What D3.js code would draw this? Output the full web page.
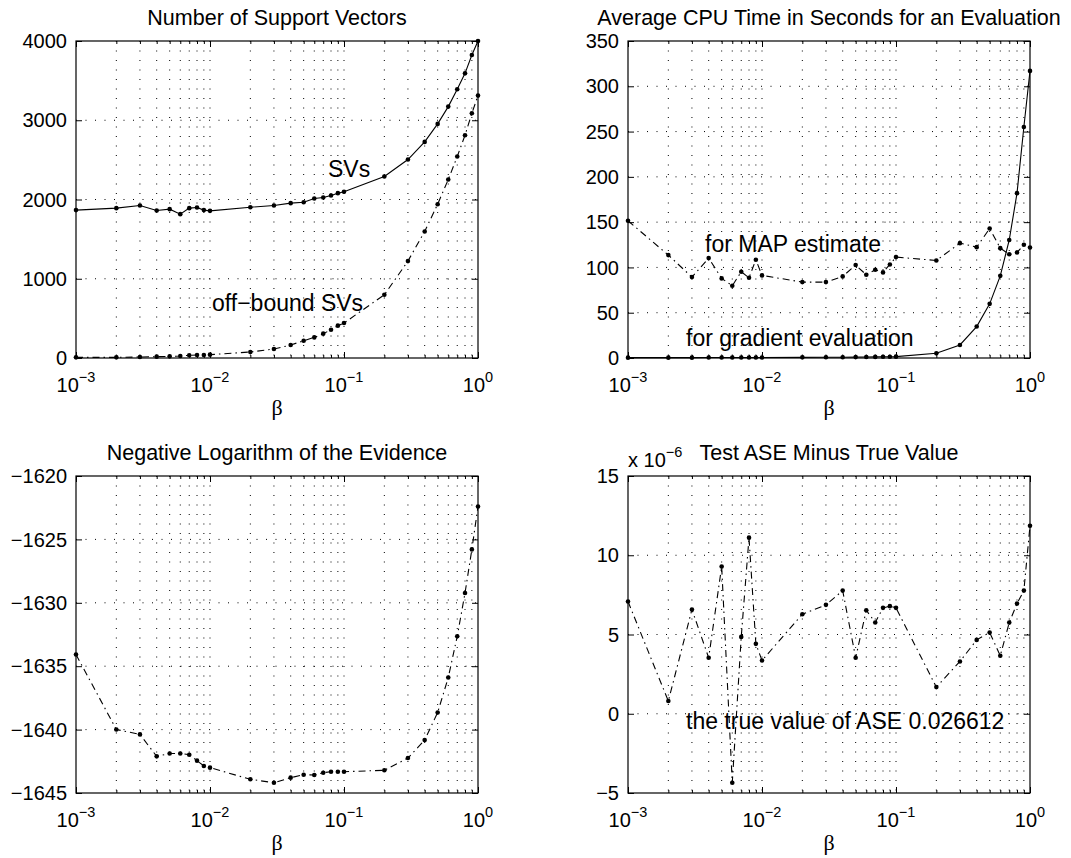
<!DOCTYPE html>
<html>
<head>
<meta charset="utf-8">
<script src="https://cdn.jsdelivr.net/npm/d3@7"></script>
<style>
  body { margin: 0; background: #fff; }
  svg text { font-family: "Liberation Sans", Arial, Helvetica, sans-serif; fill: #000; }
  .beta { font-family: "Liberation Serif", "Times New Roman", serif; }
</style>
</head>
<body>
<svg width="1071" height="858"></svg>
<script>
// beta values shared by all four panels
var beta = [0.001,0.002,0.003,0.004,0.005,0.006,0.007,0.008,0.009,
            0.01,0.02,0.03,0.04,0.05,0.06,0.07,0.08,0.09,
            0.1,0.2,0.3,0.4,0.5,0.6,0.7,0.8,0.9,1.0];

// number of support vectors
var svs = [1866,1891,1924,1861,1878,1815,1891,1899,1866,1857,1903,1924,1954,1966,
           2013,2025,2050,2080,2097,2290,2504,2727,2954,3172,3391,3592,3824,4000];
var offBound = [8,8,13,17,21,25,34,38,38,42,76,113,164,218,260,307,357,408,441,
                798,1223,1597,1941,2252,2542,2811,3088,3311];

// cpu time (s)
var mapTime = [151.5,113.6,89.3,110.3,87.9,79.8,95.2,88.6,108.5,91.2,83.8,83.8,90.1,
               102.6,91.9,97.4,94.5,103.3,111.4,107.7,126.8,122.4,143,121.3,114.5,116.5,125,122];
var gradTime = [0.4,0.4,0.4,0.5,0.5,0.5,0.5,0.6,0.6,0.6,0.7,0.8,0.9,1.0,1.1,1.2,1.3,1.4,1.5,
                5.3,14.4,34.7,59.8,90.7,130.3,182,255,317];

// negative log evidence
var negLogEv = [-1634.08,-1639.99,-1640.38,-1642.11,-1641.88,-1641.88,-1641.98,-1642.45,
                -1642.87,-1643.0,-1643.92,-1644.19,-1643.79,-1643.56,-1643.58,-1643.40,
                -1643.32,-1643.32,-1643.32,-1643.21,-1642.24,-1640.83,-1638.65,-1635.89,
                -1632.64,-1629.23,-1625.79,-1622.4];

// test ASE minus true value (x 1e-6)
var aseDiff = [7.08,0.80,6.58,3.53,9.29,-4.35,4.85,11.11,4.41,3.36,6.28,6.87,7.77,3.53,
               6.53,5.76,6.68,6.79,6.68,1.68,3.30,4.66,5.13,3.66,5.75,6.95,7.77,11.86];

var xDecades = [0.001,0.01,0.1,1];
var xMinor = [0.002,0.003,0.004,0.005,0.006,0.007,0.008,0.009,
              0.02,0.03,0.04,0.05,0.06,0.07,0.08,0.09,
              0.2,0.3,0.4,0.5,0.6,0.7,0.8,0.9];
var xExp = ["\u22123","\u22122","\u22121","0"];

var svg = d3.select("svg");
var W = 402, H = 317;

var panel = function(px, py, title, yDomain, yTicks, series){
  var g = svg.append("g").attr("transform","translate("+px+","+py+")");
  var x = d3.scaleLog().domain([0.001,1]).range([0,W]);
  var y = d3.scaleLinear().domain(yDomain).range([H,0]);

  // dotted grid
  var gridX = xMinor.concat([0.01,0.1]);
  g.selectAll(".gx").data(gridX).enter().append("line")
    .attr("x1",function(d){return x(d);}).attr("x2",function(d){return x(d);})
    .attr("y1",0).attr("y2",H)
    .attr("stroke","#000").attr("stroke-width",1).attr("stroke-dasharray","1,8.5");
  g.selectAll(".gy").data(yTicks.slice(1,-1)).enter().append("line")
    .attr("x1",0).attr("x2",W)
    .attr("y1",function(d){return y(d);}).attr("y2",function(d){return y(d);})
    .attr("stroke","#000").attr("stroke-width",1).attr("stroke-dasharray","1,8.5");

  // inward ticks on all sides
  var tick = function(axis, tx, ty){
    var a = g.append("g").attr("transform","translate("+tx+","+ty+")").call(axis);
    a.select(".domain").remove();
    a.selectAll("line").attr("stroke","#000");
  };
  tick(d3.axisBottom(x).tickValues(xDecades).tickSize(-6).tickFormat(""),0,H);
  tick(d3.axisBottom(x).tickValues(xMinor).tickSize(-3).tickFormat(""),0,H);
  tick(d3.axisTop(x).tickValues(xDecades).tickSize(-6).tickFormat(""),0,0);
  tick(d3.axisTop(x).tickValues(xMinor).tickSize(-3).tickFormat(""),0,0);
  tick(d3.axisLeft(y).tickValues(yTicks).tickSize(-6).tickFormat(""),0,0);
  tick(d3.axisRight(y).tickValues(yTicks).tickSize(-6).tickFormat(""),W,0);

  g.append("rect").attr("width",W).attr("height",H)
    .attr("fill","none").attr("stroke","#000").attr("stroke-width",1.2);

  // tick labels
  g.selectAll(".yl").data(yTicks).enter().append("text")
    .attr("x",-9).attr("y",function(d){return y(d);}).attr("dy","0.36em")
    .attr("text-anchor","end").attr("font-size",20)
    .text(function(d){return d3.format("")(d);});
  var xl = g.selectAll(".xl").data(xDecades).enter().append("text")
    .attr("x",function(d){return x(d);}).attr("y",H+34)
    .attr("text-anchor","middle").attr("font-size",20);
  xl.append("tspan").text("10");
  xl.append("tspan").attr("dy",-10).attr("font-size",14.5)
    .text(function(d,i){return xExp[i];});

  g.append("text").attr("class","beta").attr("x",W/2).attr("y",H+57)
    .attr("text-anchor","middle").attr("font-size",22).text("\u03b2");

  g.append("text").attr("x",W/2).attr("y",-16).attr("text-anchor","middle")
    .attr("font-size",21.5).text(title);

  series.forEach(function(s){
    var line = d3.line().x(function(d,i){return x(beta[i]);}).y(function(d){return y(d);});
    g.append("path").datum(s.values).attr("d",line)
      .attr("fill","none").attr("stroke","#000").attr("stroke-width",1.1)
      .attr("stroke-dasharray",s.dash ? "7,4,1.5,4" : null);
    g.selectAll(null).data(s.values).enter().append("circle")
      .attr("cx",function(d,i){return x(beta[i]);})
      .attr("cy",function(d){return y(d);})
      .attr("r",2.3).attr("fill","#000");
  });
  return g;
};

var labelText = function(g, tx, ty, str){
  g.append("text").attr("x",tx).attr("y",ty).attr("font-size",23).text(str);
};

var p1 = panel(76,41,"Number of Support Vectors",[0,4000],[0,1000,2000,3000,4000],
  [{values:svs,dash:false},{values:offBound,dash:true}]);
labelText(p1,252,136,"SVs");
labelText(p1,136,270,"off\u2212bound SVs");

var p2 = panel(628,41,"Average CPU Time in Seconds for an Evaluation",[0,350],
  [0,50,100,150,200,250,300,350],
  [{values:mapTime,dash:true},{values:gradTime,dash:false}]);
labelText(p2,77,211,"for MAP estimate");
labelText(p2,58,305,"for gradient evaluation");

var p3 = panel(76,476,"Negative Logarithm of the Evidence",[-1645,-1620],
  [-1645,-1640,-1635,-1630,-1625,-1620],
  [{values:negLogEv,dash:true}]);

var p4 = panel(628,476,"Test ASE Minus True Value",[-5,15],[-5,0,5,10,15],
  [{values:aseDiff,dash:true}]);
var sc = p4.append("text").attr("x",0).attr("y",-9).attr("font-size",20);
sc.append("tspan").text("x 10");
sc.append("tspan").attr("dy",-10).attr("font-size",14.5).text("\u22126");
labelText(p4,58,253,"the true value of ASE 0.026612");
</script>
</body>
</html>
